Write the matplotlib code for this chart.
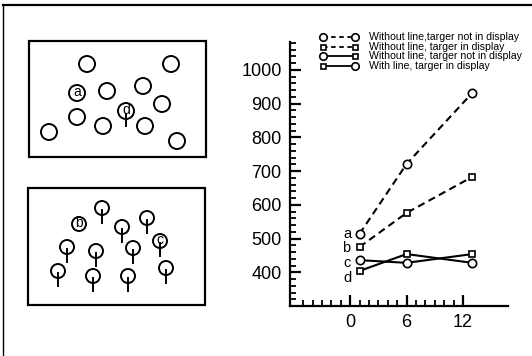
import matplotlib
matplotlib.use('Agg')
import matplotlib.pyplot as plt
from matplotlib.lines import Line2D
from matplotlib.patches import Circle, Rectangle
from matplotlib.ticker import FixedLocator, MultipleLocator

plt.rcParams['font.family'] = ['Liberation Sans', 'DejaVu Sans']

# reaction time data
x_vals = [1, 6, 13]
a_vals = [514, 721, 932]   # without line, target not in display
b_vals = [475, 576, 683]   # without line, target in display
c_vals = [436, 428, 454]   # without line, target not in display
d_vals = [404, 454, 428]   # with line, target in display
a_marks = ['o', 'o', 'o']
b_marks = ['s', 's', 's']
c_marks = ['o', 'o', 's']
d_marks = ['s', 's', 'o']
legend_texts = ['Without line,targer not in display',
                'Without line, targer in display',
                'Without line, targer not in display',
                'With line, targer in display']
y_ticks = [400, 500, 600, 700, 800, 900, 1000]
x_ticks = [0, 6, 12]

# the two display sketches on the left (pixel positions of the targets)
top_x = [87, 171, 77, 107, 143, 126, 162, 77, 103, 145, 49, 177]
top_y = [64, 64, 93, 91, 86, 111, 104, 117, 126, 126, 132, 141]
top_lbl = {2: 'a', 5: 'd'}
top_stem = [5]
bot_x = [102, 79, 122, 147, 160, 67, 96, 133, 58, 93, 128, 166]
bot_y = [208, 224, 227, 218, 241, 247, 251, 248, 271, 276, 276, 268]
bot_lbl = {1: 'b', 4: 'c'}
bot_stem = [0, 2, 3, 4, 5, 6, 7, 8, 9, 10, 11]

W, H = 532, 356
fig = plt.figure(figsize=(W / 100, H / 100), dpi=100)

# overlay in pixel coordinates for the frame and the sketches
ov = fig.add_axes([0, 0, 1, 1])
ov.set_xlim(0, W)
ov.set_ylim(H, 0)
ov.axis('off')
ov.plot([3, W], [5, 5], color='black', lw=1.6)
ov.plot([3, 3], [5, H], color='black', lw=1.0)

ov.add_patch(Rectangle((29, 41), 177, 116, fill=False, lw=1.6, ec='black'))
ov.add_patch(Rectangle((28, 188), 177, 117, fill=False, lw=1.6, ec='black'))

for i, (cx, cy) in enumerate(zip(top_x, top_y)):
    ov.add_patch(Circle((cx, cy), 8, fill=False, lw=1.4, ec='black'))
    if i in top_stem:
        ov.plot([cx, cx], [cy + 3, cy + 15], color='black', lw=1.4)
    if i in top_lbl:
        ov.text(cx, cy - 1, top_lbl[i], ha='center', va='center', fontsize=10)

for i, (cx, cy) in enumerate(zip(bot_x, bot_y)):
    ov.add_patch(Circle((cx, cy), 7, fill=False, lw=1.4, ec='black'))
    if i in bot_stem:
        ov.plot([cx, cx], [cy + 2, cy + 15], color='black', lw=1.4)
    if i in bot_lbl:
        ov.text(cx, cy - 1, bot_lbl[i], ha='center', va='center', fontsize=10)

# main chart
ax = fig.add_axes([290 / W, (H - 306) / H, 218 / W, 264 / H])
ax.set_xlim(-6.4, 16.8)
ax.set_ylim(300, 1083)
ax.patch.set_alpha(0)
for s in ['top', 'right']:
    ax.spines[s].set_visible(False)
for s in ['left', 'bottom']:
    ax.spines[s].set_linewidth(1.6)

ax.yaxis.set_major_locator(FixedLocator(y_ticks))
ax.yaxis.set_minor_locator(MultipleLocator(20))
ax.xaxis.set_major_locator(FixedLocator(x_ticks))
ax.xaxis.set_minor_locator(FixedLocator([-5, -4, -3, -2, -1, 1, 2, 3, 4, 5,
                                         7, 8, 9, 10, 11]))
ax.tick_params(which='major', direction='in', length=8, width=1.6,
               labelsize=13, pad=6)
ax.tick_params(which='minor', direction='in', length=4.5, width=1.3)

mk_o = dict(marker='o', ms=6, mfc='white', mec='black', mew=1.2)
mk_s = dict(marker='s', ms=4.2, mfc='white', mec='black', mew=1.2)
dash = (3.5, 2.2)

series = [(a_vals, a_marks, dash), (b_vals, b_marks, dash),
          (c_vals, c_marks, None), (d_vals, d_marks, None)]
for vals, marks, ls in series:
    ln, = ax.plot(x_vals, vals, color='black', lw=1.5)
    if ls:
        ln.set_dashes(ls)
    for xv, yv, m in zip(x_vals, vals, marks):
        ax.plot([xv], [yv], zorder=3, **(mk_o if m == 'o' else mk_s))

# series letters next to the first points
for name, vals, off in zip('abcd', [a_vals, b_vals, c_vals, d_vals],
                           [(-12, 0), (-13, -1), (-12, -3), (-12, -7)]):
    ax.annotate(name, (x_vals[0], vals[0]), xytext=off,
                textcoords='offset pixels', ha='center', va='center',
                fontsize=10.5)

# hand drawn legend, each row has its own end markers
rows = [('o', 'o', dash), ('s', 's', dash), ('o', 's', None), ('s', 'o', None)]
x0, x1, xt = (323 - 290) / 218, (355 - 290) / 218, (369 - 290) / 218
for k, ((m0, m1, ls), txt) in enumerate(zip(rows, legend_texts)):
    yy = (306 - (37 + 9.6 * k)) / 264
    ln = Line2D([x0, x1], [yy, yy], color='black', lw=1.3,
                transform=ax.transAxes, clip_on=False)
    if ls:
        ln.set_dashes((2.5, 2.0))
    ax.add_line(ln)
    for xm, m in [(x0, m0), (x1, m1)]:
        st = mk_o if m == 'o' else mk_s
        st = dict(st, ms=st['ms'] - 0.6)
        ax.plot([xm], [yy], transform=ax.transAxes, clip_on=False, **st)
    ax.text(xt, yy, txt, transform=ax.transAxes, fontsize=7.6,
            ha='left', va='center', clip_on=False)

fig.savefig('out.png', dpi=100)
